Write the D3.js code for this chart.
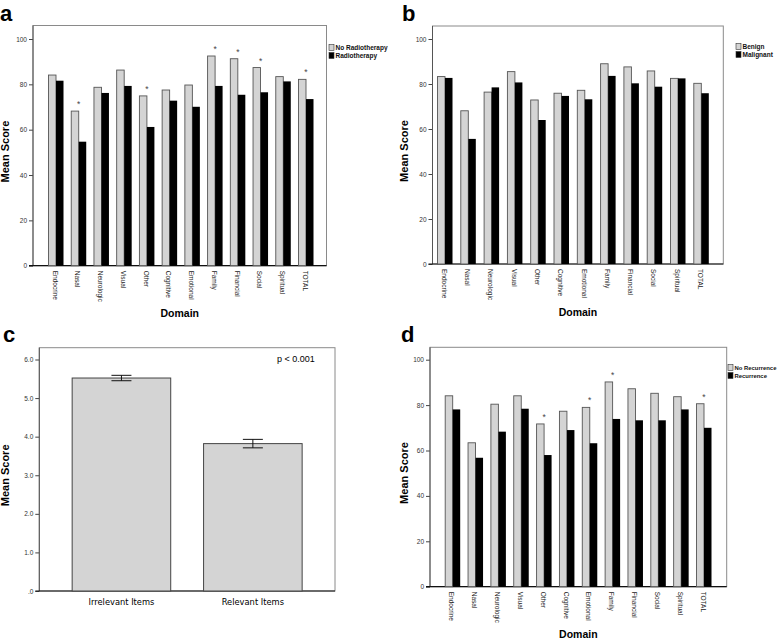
<!DOCTYPE html>
<html>
<head>
<meta charset="utf-8">
<script src="https://cdn.jsdelivr.net/npm/d3@7"></script>
<style>
  body { margin: 0; background: #fff; }
  svg { display: block; }
</style>
</head>
<body>
<div id="chart"></div>
<script>
// -------------------------------
// Data
// -------------------------------
const domains = ["Endocrine", "Nasal", "Neurologic", "Visual", "Other", "Cognitive",
  "Emotional", "Family", "Financial", "Social", "Spiritual", "TOTAL"];

const noRadiotherapy = [84.1, 68.2, 78.7, 86.3, 74.9, 77.5, 79.7, 92.5, 91.3, 87.4, 83.4, 82.2];
const radiotherapy   = [81.6, 54.7, 76.2, 79.3, 61.2, 72.8, 70.1, 79.3, 75.4, 76.5, 81.3, 73.5];
const sigRadiotherapy = ["Nasal", "Other", "Family", "Financial", "Social", "TOTAL"];

const benign    = [83.3, 68.1, 76.4, 85.5, 72.9, 75.9, 77.2, 89.0, 87.6, 85.8, 82.5, 80.3];
const malignant = [82.7, 55.6, 78.5, 80.7, 64.0, 74.7, 73.2, 83.6, 80.3, 78.8, 82.5, 75.9];
const sigMalignant = [];

const noRecurrence = [84.1, 63.4, 80.4, 84.1, 71.7, 77.3, 79.0, 90.2, 87.2, 85.2, 83.7, 80.6];
const recurrence   = [78.1, 56.8, 68.3, 78.4, 58.0, 69.0, 63.2, 73.9, 73.3, 73.3, 78.1, 70.0];
const sigRecurrence = ["Other", "Emotional", "Family", "TOTAL"];

const itemGroups = ["Irrelevant Items", "Relevant Items"];
const itemMeans  = [5.52, 3.82];
const itemLow    = [5.45, 3.71];
const itemHigh   = [5.59, 3.93];

const scoreTicks = [0, 20, 40, 60, 80, 100];
const itemTicks  = [0, 1, 2, 3, 4, 5, 6];

// -------------------------------
// SVG
// -------------------------------
const svg = d3.select("#chart")
  .append("svg")
  .attr("width", 778)
  .attr("height", 640);

const LIGHT = "#d4d4d4";
const FONT = "Liberation Sans, Arial, sans-serif";

function drawFrame(g, box) {
  g.append("rect")
    .attr("x", box.left).attr("y", box.top)
    .attr("width", box.right - box.left).attr("height", box.bottom - box.top)
    .attr("fill", "#fff").attr("stroke", "#8a8a8a").attr("stroke-width", 1);
}

function drawYAxis(g, box, yScale, ticks, fmt) {
  const axis = d3.axisLeft(yScale).tickValues(ticks).tickSize(4).tickSizeOuter(0).tickFormat(fmt);
  const ax = g.append("g")
    .attr("transform", `translate(${box.left},0)`)
    .call(axis);
  ax.select(".domain").remove();
  ax.selectAll("line").attr("stroke", "#444");
  ax.selectAll("text")
    .attr("font-family", FONT).attr("font-size", "6.5px").attr("fill", "#333").attr("x", -6);
  g.append("line")
    .attr("x1", box.left).attr("x2", box.left)
    .attr("y1", box.top).attr("y2", box.bottom)
    .attr("stroke", "#555");
  g.append("line")
    .attr("x1", box.left - 4).attr("x2", box.right)
    .attr("y1", box.bottom).attr("y2", box.bottom)
    .attr("stroke", "#111").attr("stroke-width", 1.2);
}

function drawTitles(g, box, letter, lx, ly, yLabel, yLabelX, xLabel, xLabelY) {
  g.append("text").attr("x", lx).attr("y", ly)
    .attr("font-family", FONT).attr("font-weight", "bold").attr("font-size", "22px")
    .text(letter);
  g.append("text")
    .attr("transform", `translate(${yLabelX},${(box.top + box.bottom) / 2 + 6}) rotate(-90)`)
    .attr("text-anchor", "middle")
    .attr("font-family", FONT).attr("font-weight", "bold").attr("font-size", "11px")
    .text(yLabel);
  if (xLabel) {
    g.append("text")
      .attr("x", (box.left + box.right) / 2).attr("y", xLabelY)
      .attr("text-anchor", "middle")
      .attr("font-family", FONT).attr("font-weight", "bold").attr("font-size", "10.5px")
      .text(xLabel);
  }
}

// -------------------------------
// Grouped bar panel (a, b, d)
// -------------------------------
function groupedPanel(p) {
  const g = svg.append("g");
  const box = p.box;
  const xScale = d3.scalePoint().domain(domains).range(p.centers);
  const yScale = d3.scaleLinear().domain([0, 100]).range([box.bottom, p.y100]);
  const bw = 7.5;

  drawFrame(g, box);
  drawYAxis(g, box, yScale, scoreTicks, d3.format("d"));

  // light bars
  g.selectAll(".light").data(domains).join("rect")
    .attr("x", (d) => xScale(d) - bw)
    .attr("y", (d, i) => yScale(p.light[i]))
    .attr("width", bw)
    .attr("height", (d, i) => box.bottom - yScale(p.light[i]))
    .attr("fill", LIGHT).attr("stroke", "#555").attr("stroke-width", 0.9);

  // dark bars
  g.selectAll(".dark").data(domains).join("rect")
    .attr("x", (d) => xScale(d))
    .attr("y", (d, i) => yScale(p.dark[i]))
    .attr("width", bw)
    .attr("height", (d, i) => box.bottom - yScale(p.dark[i]))
    .attr("fill", "#000");

  // significance stars
  g.selectAll(".star").data(p.sig).join("text")
    .attr("x", (d) => xScale(d))
    .attr("y", (d) => yScale(p.light[domains.indexOf(d)]) - 4)
    .attr("text-anchor", "middle")
    .attr("font-family", FONT).attr("font-size", "8.5px").attr("fill", "#444")
    .text("*");

  // category labels
  g.selectAll(".cat").data(domains).join("text")
    .attr("transform", (d) => `translate(${xScale(d) - 1},${box.bottom + 5}) rotate(90)`)
    .attr("dy", "0.35em")
    .attr("font-family", FONT).attr("font-size", "6.5px").attr("fill", "#222")
    .text((d) => d);

  // legend
  p.legend.forEach((name, i) => {
    const ly = p.legendY + i * 8;
    g.append("rect")
      .attr("x", p.legendX).attr("y", ly - 5.5).attr("width", 5).attr("height", 6)
      .attr("fill", i === 0 ? LIGHT : "#000").attr("stroke", "#333").attr("stroke-width", 0.6);
    g.append("text")
      .attr("x", p.legendX + 6.5).attr("y", ly)
      .attr("font-family", FONT).attr("font-weight", "bold").attr("font-size", p.legendSize)
      .attr("fill", "#111")
      .text(name);
  });

  drawTitles(g, box, p.letter, p.letterX, p.letterY, "Mean Score", p.yLabelX, "Domain", p.xLabelY);
}

groupedPanel({
  letter: "a", letterX: 0, letterY: 21,
  box: { left: 33, right: 326.5, top: 25.5, bottom: 265.7 }, y100: 39,
  centers: [56, 306],
  light: noRadiotherapy, dark: radiotherapy, sig: sigRadiotherapy,
  legend: ["No Radiotherapy", "Radiotherapy"], legendX: 329, legendY: 50, legendSize: "6.5px",
  yLabelX: 9, xLabelY: 317
});

groupedPanel({
  letter: "b", letterX: 402, letterY: 21,
  box: { left: 432.5, right: 723.3, top: 26, bottom: 264 }, y100: 39,
  centers: [445, 701.3],
  light: benign, dark: malignant, sig: sigMalignant,
  legend: ["Benign", "Malignant"], legendX: 736, legendY: 49, legendSize: "6.5px",
  yLabelX: 408, xLabelY: 316
});

groupedPanel({
  letter: "d", letterX: 401, letterY: 342,
  box: { left: 430, right: 726.7, top: 347.3, bottom: 586.7 }, y100: 359.7,
  centers: [452.7, 704],
  light: noRecurrence, dark: recurrence, sig: sigRecurrence,
  legend: ["No Recurrence", "Recurrence"], legendX: 728, legendY: 370, legendSize: "5.9px",
  yLabelX: 408, xLabelY: 638
});

// -------------------------------
// Panel c: single bars with error bars
// -------------------------------
(function () {
  const g = svg.append("g");
  const box = { left: 39.3, right: 335, top: 347.7, bottom: 591 };
  const xScale = d3.scaleBand().domain(itemGroups).range([box.left, box.right])
    .paddingInner(0.25).paddingOuter(0.25);
  const yScale = d3.scaleLinear().domain([0, 6]).range([box.bottom, 359.5]);

  drawFrame(g, box);
  drawYAxis(g, box, yScale, itemTicks, (d) => (d === 0 ? ".0" : d.toFixed(1)));

  g.selectAll(".bar").data(itemGroups).join("rect")
    .attr("x", (d) => xScale(d))
    .attr("y", (d, i) => yScale(itemMeans[i]))
    .attr("width", xScale.bandwidth())
    .attr("height", (d, i) => box.bottom - yScale(itemMeans[i]))
    .attr("fill", LIGHT).attr("stroke", "#444").attr("stroke-width", 1);

  // error bars
  itemGroups.forEach((d, i) => {
    const cx = xScale(d) + xScale.bandwidth() / 2;
    const eg = g.append("g").attr("stroke", "#111").attr("stroke-width", 1);
    eg.append("line").attr("x1", cx).attr("x2", cx)
      .attr("y1", yScale(itemLow[i])).attr("y2", yScale(itemHigh[i]));
    [itemLow[i], itemHigh[i]].forEach((v) => {
      eg.append("line").attr("x1", cx - 10).attr("x2", cx + 10)
        .attr("y1", yScale(v)).attr("y2", yScale(v));
    });
  });

  g.selectAll(".lab").data(itemGroups).join("text")
    .attr("x", (d) => xScale(d) + xScale.bandwidth() / 2)
    .attr("y", box.bottom + 14)
    .attr("text-anchor", "middle")
    .attr("font-family", "DejaVu Sans, sans-serif").attr("font-size", "8.3px")
    .text((d) => d);

  g.append("text")
    .attr("x", 277).attr("y", 361.5)
    .attr("font-family", FONT).attr("font-size", "9px")
    .text("p < 0.001");

  drawTitles(g, box, "c", 3, 342, "Mean Score", 9, null, 0);
})();
</script>
</body>
</html>
